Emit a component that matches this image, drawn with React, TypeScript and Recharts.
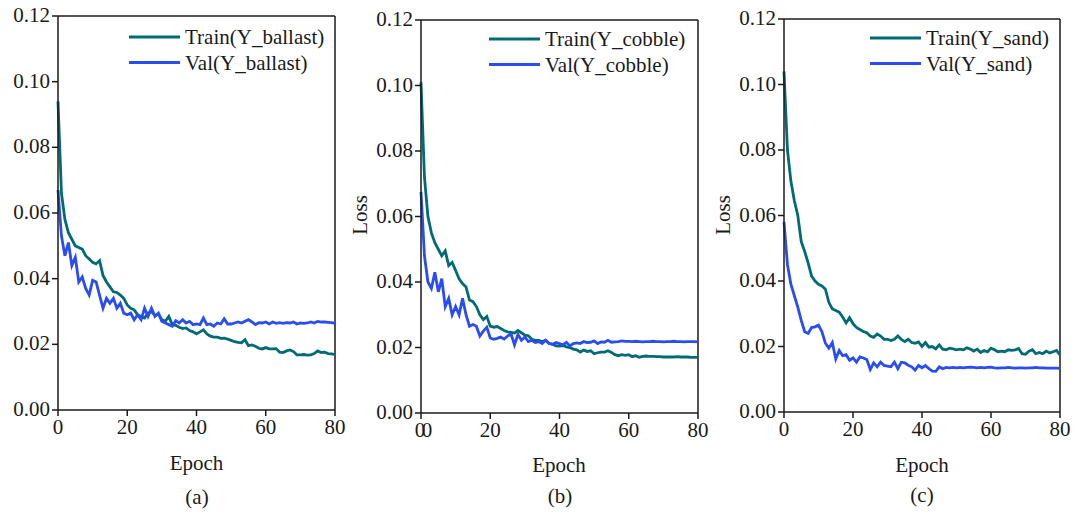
import React from 'react';
import { LineChart, Line, XAxis, YAxis, ReferenceLine, Legend } from 'recharts';

const epochs = Array.from({ length: 81 }, (_, i) => i);
const xTicks = [0, 20, 40, 60, 80];
const yTicks = [0, 0.02, 0.04, 0.06, 0.08, 0.1, 0.12];

const trainBallast = [
  0.094, 0.066, 0.058, 0.054, 0.052, 0.05, 0.0495, 0.049, 0.047, 0.046,
  0.045, 0.0445, 0.0455, 0.041, 0.039, 0.0375, 0.036, 0.0358, 0.035, 0.034,
  0.032, 0.031, 0.0305, 0.029, 0.0285, 0.028, 0.0295, 0.03, 0.0288, 0.0292,
  0.0275, 0.027, 0.0285, 0.026, 0.0258, 0.0252, 0.0248, 0.025, 0.0242, 0.0238,
  0.0232, 0.0238, 0.0244, 0.0232, 0.0225, 0.0222, 0.0222, 0.0218, 0.0219, 0.0216,
  0.0212, 0.0208, 0.0206, 0.0205, 0.0214, 0.0196, 0.0198, 0.0194, 0.0188, 0.0186,
  0.019, 0.0186, 0.0186, 0.0187, 0.0176, 0.0175, 0.018, 0.0183, 0.0178, 0.0168,
  0.0168, 0.0169, 0.0167, 0.0168, 0.0172, 0.018, 0.0175, 0.0176, 0.0172, 0.0171,
  0.0169,
];
const valBallast = [
  0.067, 0.053, 0.047, 0.051, 0.044, 0.0465, 0.039, 0.0405, 0.037, 0.035,
  0.0395, 0.039, 0.035, 0.031, 0.034, 0.0325, 0.034, 0.031, 0.0325, 0.0295,
  0.029, 0.0295, 0.0275, 0.029, 0.0275, 0.031, 0.0285, 0.031, 0.0285, 0.0295,
  0.027, 0.0265, 0.026, 0.0255, 0.0272, 0.0265, 0.0275, 0.0265, 0.027, 0.026,
  0.0262, 0.026, 0.028, 0.026, 0.0262, 0.0255, 0.0265, 0.0262, 0.0278, 0.0262,
  0.0262, 0.0265, 0.0268, 0.0265, 0.027, 0.0275, 0.0268, 0.026, 0.0266, 0.0265,
  0.0268, 0.0262, 0.0268, 0.0264, 0.0266, 0.0264, 0.0266, 0.0265, 0.0268, 0.0262,
  0.0265, 0.0264, 0.0265, 0.0268, 0.0265, 0.027, 0.0268, 0.0268, 0.0267, 0.0266,
  0.0264,
];

const trainCobble = [
  0.101, 0.072, 0.06, 0.055, 0.052, 0.05, 0.048, 0.0495, 0.045, 0.046,
  0.0435, 0.041, 0.0395, 0.0385, 0.0345, 0.034, 0.0325, 0.03, 0.0285, 0.0295,
  0.0265, 0.0262, 0.0264, 0.0258, 0.0252, 0.0248, 0.0246, 0.0244, 0.0252, 0.0245,
  0.0238, 0.0236, 0.0225, 0.0222, 0.0222, 0.0218, 0.0222, 0.0212, 0.021, 0.0205,
  0.0204, 0.0206, 0.0202, 0.02, 0.0195, 0.0193, 0.0186, 0.0192, 0.0188, 0.019,
  0.0181, 0.0184, 0.0186, 0.0186, 0.019, 0.0185, 0.0178, 0.0175, 0.0178, 0.0176,
  0.0178, 0.0172, 0.0175, 0.017, 0.0173, 0.0174, 0.0173, 0.0173, 0.0172, 0.0172,
  0.0171, 0.0171, 0.0171, 0.0171, 0.0172, 0.0171, 0.0171, 0.0171, 0.017, 0.017,
  0.017,
];
const valCobble = [
  0.0675, 0.048, 0.04, 0.038, 0.043, 0.037, 0.041, 0.0325, 0.035, 0.03,
  0.0325, 0.03, 0.035, 0.03, 0.0265, 0.027, 0.0265, 0.0235, 0.025, 0.0262,
  0.0229, 0.0225, 0.0228, 0.0232, 0.0226, 0.0235, 0.0242, 0.0208, 0.024, 0.0222,
  0.0232, 0.0218, 0.0222, 0.0215, 0.0218, 0.0212, 0.0222, 0.0212, 0.021, 0.0215,
  0.0212, 0.0208, 0.0216, 0.0205, 0.0212, 0.0214, 0.0212, 0.0218, 0.0215, 0.0216,
  0.022, 0.0212, 0.0217, 0.0216, 0.0222, 0.0216, 0.0217, 0.0218, 0.022, 0.0219,
  0.0219, 0.0218, 0.0219, 0.0218, 0.0217, 0.0218, 0.0218, 0.0219, 0.0218, 0.0218,
  0.0217, 0.0218, 0.0218, 0.0219, 0.0218, 0.0218, 0.0217, 0.0218, 0.0218, 0.0218,
  0.0217,
];

const trainSand = [
  0.104, 0.08, 0.0705, 0.0645, 0.06, 0.052, 0.049, 0.0455, 0.0415, 0.04,
  0.039, 0.0385, 0.0375, 0.0335, 0.0315, 0.031, 0.0305, 0.029, 0.0272, 0.0288,
  0.027, 0.0258, 0.0252, 0.0246, 0.0242, 0.0232, 0.0228, 0.0238, 0.0232, 0.0222,
  0.0222, 0.0218, 0.0222, 0.0232, 0.0222, 0.0215, 0.0222, 0.0212, 0.021, 0.0214,
  0.02, 0.0212, 0.0198, 0.02, 0.0193, 0.0205, 0.0192, 0.019, 0.0195, 0.0193,
  0.019, 0.0192, 0.019, 0.0196, 0.0192, 0.0186, 0.0192, 0.0182, 0.0188, 0.0184,
  0.0195, 0.019, 0.0184, 0.0186, 0.0184, 0.019, 0.0188, 0.019, 0.0194, 0.0178,
  0.0176, 0.0186, 0.019, 0.0178, 0.0182, 0.0178, 0.0186, 0.018, 0.0184, 0.0188,
  0.0174,
];
const valSand = [
  0.058, 0.045, 0.039, 0.0355, 0.032, 0.028, 0.0245, 0.024, 0.0258, 0.026,
  0.0265, 0.0245, 0.021, 0.0195, 0.0212, 0.0162, 0.0188, 0.0172, 0.0175, 0.0158,
  0.0165, 0.0152, 0.0168, 0.0165, 0.016, 0.013, 0.015, 0.0138, 0.0152, 0.0142,
  0.014, 0.0138, 0.0152, 0.0132, 0.0152, 0.015, 0.0143, 0.0138, 0.0128, 0.0142,
  0.0135, 0.0142, 0.0132, 0.0125, 0.0124, 0.0138, 0.0132, 0.0136, 0.0135, 0.0136,
  0.0135, 0.0136, 0.0135, 0.0136, 0.0137, 0.0136, 0.0135, 0.0136, 0.0135, 0.0136,
  0.0137, 0.0135, 0.0134, 0.0135, 0.0135, 0.0136, 0.0135, 0.0134, 0.0135, 0.0135,
  0.0134, 0.0135, 0.0135, 0.0136, 0.0135, 0.0135, 0.0134, 0.0134, 0.0134, 0.0134,
  0.0133,
];

const TRAIN_COLOR = '#006b74';
const VAL_COLOR = '#2a4cf0';
const INK = '#1a1a1a';
const FONT = '"Liberation Serif", "Times New Roman", serif';
const TICK_FS = 21;

type PanelProps = {
  left: number;
  width: number;
  yAxisWidth: number;
  marginTop: number;
  marginRight: number;
  marginBottom: number;
  train: number[];
  val: number[];
  trainName: string;
  valName: string;
  legendLeft: number;
  legendTop: number;
  doubleZero?: boolean;
};

const XTick = (props: any) => {
  const { x, y, payload, doubleZero } = props;
  const v = payload.value;
  if (doubleZero && v === 0) {
    return (
      <g>
        <text x={x - 1} y={y + 14} textAnchor="middle" fontFamily={FONT} fontSize={TICK_FS} fill={INK}>0</text>
        <text x={x + 6} y={y + 14} textAnchor="middle" fontFamily={FONT} fontSize={TICK_FS} fill={INK}>0</text>
      </g>
    );
  }
  return (
    <text x={x} y={y + 14} textAnchor="middle" fontFamily={FONT} fontSize={TICK_FS} fill={INK}>
      {v}
    </text>
  );
};

const YTick = (props: any) => {
  const { x, y, payload } = props;
  return (
    <text x={x} y={y + 6} textAnchor="end" fontFamily={FONT} fontSize={TICK_FS} fill={INK}>
      {Number(payload.value).toFixed(2)}
    </text>
  );
};

const LegendBox = (props: any) => {
  const payload = props.payload || [];
  return (
    <svg width={230} height={60} style={{ overflow: 'visible' }}>
      {payload.map((p: any, i: number) => {
        const cy = 12 + i * 25.5;
        return (
          <g key={i}>
            <line x1={0} x2={51} y1={cy} y2={cy} stroke={p.color} strokeWidth={3} />
            <text x={56} y={cy + 7} fontFamily={FONT} fontSize={21} fill={INK}>
              {p.value}
            </text>
          </g>
        );
      })}
    </svg>
  );
};

const Panel = (p: PanelProps) => {
  const rows = epochs.map((e, i) => ({ epoch: e, train: p.train[i], val: p.val[i] }));
  return (
    <div style={{ position: 'absolute', left: p.left, top: 0 }}>
      <LineChart
        width={p.width}
        height={515}
        data={rows}
        margin={{ top: p.marginTop, right: p.marginRight, bottom: p.marginBottom, left: 0 }}
      >
        <XAxis
          dataKey="epoch"
          type="number"
          domain={[0, 80]}
          ticks={xTicks}
          height={30}
          tickSize={6}
          tickMargin={4}
          axisLine={{ stroke: INK, strokeWidth: 1.5 }}
          tickLine={{ stroke: INK, strokeWidth: 1.5 }}
          tick={<XTick doubleZero={p.doubleZero} />}
          interval={0}
        />
        <YAxis
          type="number"
          domain={[0, 0.12]}
          ticks={yTicks}
          width={p.yAxisWidth}
          tickSize={6}
          tickMargin={2}
          interval={0}
          axisLine={{ stroke: INK, strokeWidth: 1.5 }}
          tickLine={{ stroke: INK, strokeWidth: 1.5 }}
          tick={<YTick />}
        />
        <ReferenceLine y={0.12} stroke={INK} strokeWidth={1.5} />
        <ReferenceLine x={80} stroke={INK} strokeWidth={1.5} />
        <Line
          dataKey="train"
          name={p.trainName}
          stroke={TRAIN_COLOR}
          strokeWidth={2.8}
          dot={false}
          type="linear"
          isAnimationActive={false}
        />
        <Line
          dataKey="val"
          name={p.valName}
          stroke={VAL_COLOR}
          strokeWidth={2.8}
          dot={false}
          type="linear"
          isAnimationActive={false}
        />
        <Legend
          layout="vertical"
          align="center"
          verticalAlign="middle"
          content={<LegendBox />}
          wrapperStyle={{ left: p.legendLeft, top: p.legendTop, width: 230, height: 60 }}
        />
      </LineChart>
    </div>
  );
};

export default function App() {
  return (
    <div style={{ position: 'absolute', left: 0, top: 0, width: 1076, height: 515, background: '#fff' }}>
      <Panel
        left={0}
        width={350}
        yAxisWidth={58}
        marginTop={16}
        marginRight={15}
        marginBottom={75}
        train={trainBallast}
        val={valBallast}
        trainName="Train(Y_ballast)"
        valName="Val(Y_ballast)"
        legendLeft={129}
        legendTop={25}
      />
      <Panel
        left={365}
        width={350}
        yAxisWidth={56}
        marginTop={20}
        marginRight={17}
        marginBottom={72}
        train={trainCobble}
        val={valCobble}
        trainName="Train(Y_cobble)"
        valName="Val(Y_cobble)"
        legendLeft={489 - 365}
        legendTop={27}
        doubleZero
      />
      <Panel
        left={728}
        width={345}
        yAxisWidth={56}
        marginTop={19}
        marginRight={13}
        marginBottom={73}
        train={trainSand}
        val={valSand}
        trainName="Train(Y_sand)"
        valName="Val(Y_sand)"
        legendLeft={870 - 728}
        legendTop={26}
      />
      <svg
        width={1076}
        height={515}
        style={{ position: 'absolute', left: 0, top: 0, pointerEvents: 'none' }}
      >
        <g fontFamily={FONT} fontSize={21} fill={INK} textAnchor="middle">
          <text x={196.5} y={470}>Epoch</text>
          <text x={559} y={472}>Epoch</text>
          <text x={922} y={472}>Epoch</text>
          <text x={197} y={504}>(a)</text>
          <text x={560} y={503}>(b)</text>
          <text x={922} y={502}>(c)</text>
          <text x={0} y={0} transform="translate(367,215) rotate(-90)">Loss</text>
          <text x={0} y={0} transform="translate(730,215) rotate(-90)">Loss</text>
        </g>
      </svg>
    </div>
  );
}
